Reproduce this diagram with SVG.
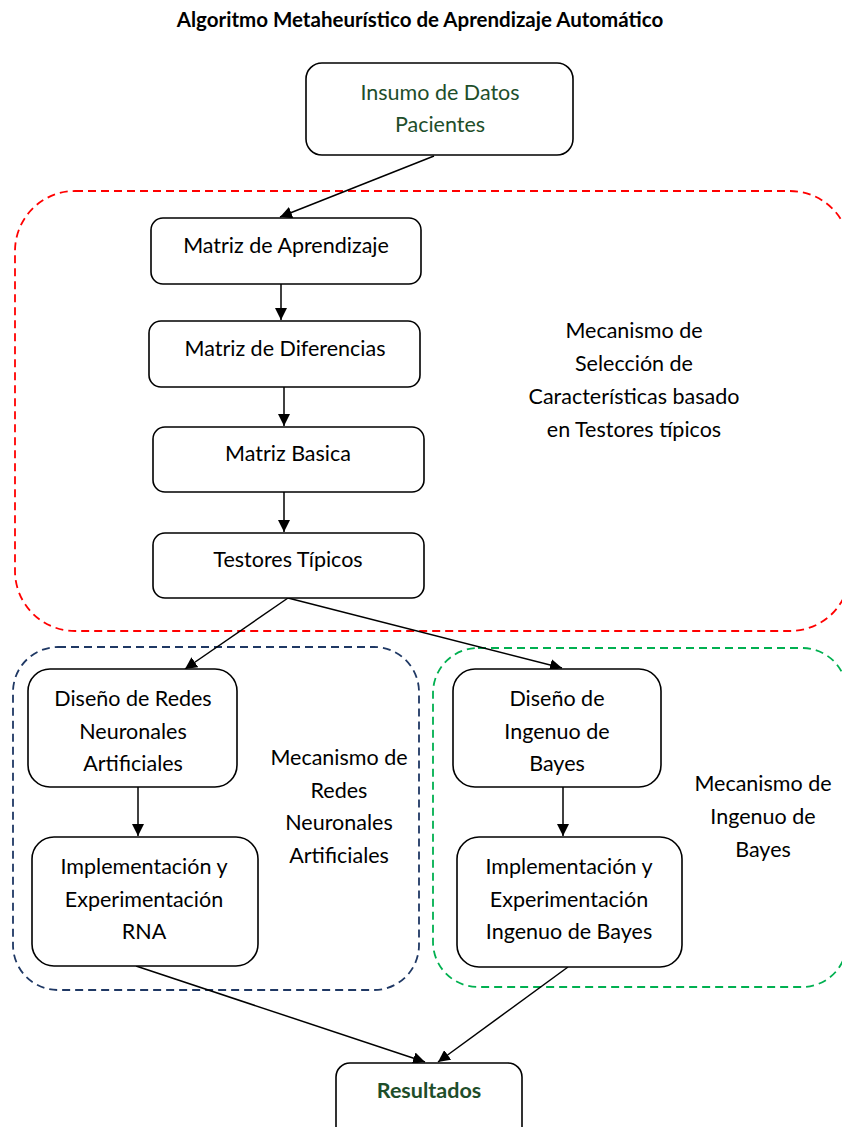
<svg xmlns="http://www.w3.org/2000/svg" width="842" height="1127" viewBox="0 0 842 1127">
  <style>
    text { font-family: Lato, "Open Sans", "Liberation Sans", sans-serif; font-size: 21.5px; fill: #000; text-anchor: middle; }
    .title { font-weight: bold; font-size: 20.5px; }
    .green { fill: #1e4e2a; }
    .bold { font-weight: bold; }
    .box { fill: #fff; stroke: #000; stroke-width: 1.6; }
    .conn { stroke: #000; stroke-width: 1.5; fill: none; marker-end: url(#arrow); }
    .zone { fill: none; stroke-width: 1.8; stroke-dasharray: 8 5; }
  </style>
  <defs>
    <marker id="arrow" viewBox="0 0 12 12" refX="12" refY="6" markerWidth="12" markerHeight="12" markerUnits="userSpaceOnUse" orient="auto">
      <path d="M0,0 L12,6 L0,12 z" fill="#000"/>
    </marker>
  </defs>
  <rect width="842" height="1127" fill="#fff"/>

  <text class="title" x="420" y="27">Algoritmo Metaheurístico de Aprendizaje Automático</text>

  <!-- dashed grouping regions -->
  <g id="zones">
    <rect id="zone-seleccion" class="zone" x="15" y="191" width="835" height="440" rx="60" stroke="#ff0000"/>
    <rect id="zone-rna" class="zone" x="13" y="647" width="406" height="343" rx="45" stroke="#1f3864"/>
    <rect id="zone-bayes" class="zone" x="433" y="648" width="414" height="339" rx="45" stroke="#00b050"/>
  </g>

  <g id="label-seleccion">
    <text x="634" y="338">Mecanismo de</text>
    <text x="634" y="371">Selección de</text>
    <text x="634" y="404">Características basado</text>
    <text x="634" y="437">en Testores típicos</text>
  </g>
  <g id="label-rna">
    <text x="339" y="765">Mecanismo de</text>
    <text x="339" y="798">Redes</text>
    <text x="339" y="830">Neuronales</text>
    <text x="339" y="863">Artificiales</text>
  </g>
  <g id="label-bayes">
    <text x="763" y="791">Mecanismo de</text>
    <text x="763" y="824">Ingenuo de</text>
    <text x="763" y="857">Bayes</text>
  </g>

  <!-- connectors -->
  <g id="connectors">
    <line class="conn" x1="434" y1="156" x2="280" y2="217"/>
    <line class="conn" x1="281" y1="284" x2="281" y2="320"/>
    <line class="conn" x1="284" y1="387" x2="284" y2="426"/>
    <line class="conn" x1="284" y1="492" x2="284" y2="532"/>
    <line class="conn" x1="288" y1="598" x2="185" y2="669"/>
    <line class="conn" x1="288" y1="598" x2="562" y2="668"/>
    <line class="conn" x1="138" y1="787" x2="138" y2="836"/>
    <line class="conn" x1="563" y1="787" x2="563" y2="836"/>
    <line class="conn" x1="136" y1="966" x2="425" y2="1062"/>
    <line class="conn" x1="568" y1="967" x2="438" y2="1062"/>
  </g>

  <!-- nodes -->
  <g id="insumo">
    <rect class="box" x="306" y="63" width="267" height="92" rx="16"/>
    <text class="green" x="440" y="100">Insumo de Datos</text>
    <text class="green" x="440" y="132">Pacientes</text>
  </g>
  <g id="matriz-aprendizaje">
    <rect class="box" x="151" y="218" width="270" height="66" rx="12"/>
    <text x="286" y="253">Matriz de Aprendizaje</text>
  </g>
  <g id="matriz-diferencias">
    <rect class="box" x="149" y="321" width="271" height="66" rx="12"/>
    <text x="285" y="356">Matriz de Diferencias</text>
  </g>
  <g id="matriz-basica">
    <rect class="box" x="153" y="427" width="271" height="65" rx="12"/>
    <text x="288" y="461">Matriz Basica</text>
  </g>
  <g id="testores">
    <rect class="box" x="153" y="533" width="271" height="65" rx="12"/>
    <text x="288" y="567">Testores Típicos</text>
  </g>
  <g id="diseno-rna">
    <rect class="box" x="28" y="669" width="209" height="118" rx="22"/>
    <text x="133" y="706">Diseño de Redes</text>
    <text x="133" y="739">Neuronales</text>
    <text x="133" y="771">Artificiales</text>
  </g>
  <g id="impl-rna">
    <rect class="box" x="32" y="837" width="226" height="129" rx="22"/>
    <text x="144" y="874">Implementación y</text>
    <text x="144" y="907">Experimentación</text>
    <text x="144" y="939">RNA</text>
  </g>
  <g id="diseno-bayes">
    <rect class="box" x="453" y="669" width="208" height="118" rx="22"/>
    <text x="557" y="706">Diseño de</text>
    <text x="557" y="739">Ingenuo de</text>
    <text x="557" y="771">Bayes</text>
  </g>
  <g id="impl-bayes">
    <rect class="box" x="457" y="837" width="225" height="130" rx="22"/>
    <text x="569" y="874">Implementación y</text>
    <text x="569" y="907">Experimentación</text>
    <text x="569" y="939">Ingenuo de Bayes</text>
  </g>
  <g id="resultados">
    <rect class="box" x="336" y="1063" width="186" height="80" rx="14"/>
    <text class="green bold" x="429" y="1098">Resultados</text>
  </g>
</svg>
